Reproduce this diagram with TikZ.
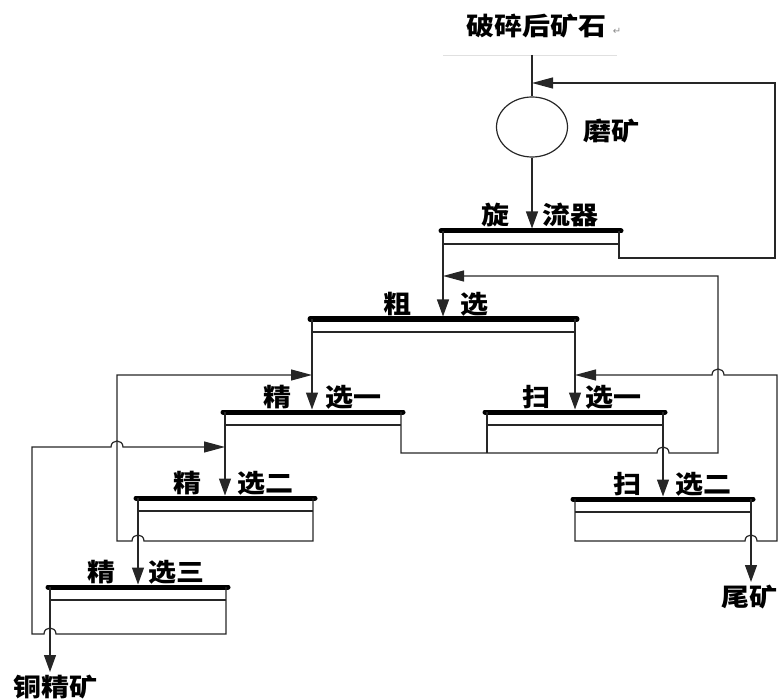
\documentclass[tikz,border=0pt]{standalone}
\usepackage{graphicx}
\usepackage{fontspec}
\usetikzlibrary{arrows.meta,shapes.geometric,calc}
\newfontfamily\cjk{Noto Sans CJK SC}
\newfontfamily\dejavu{DejaVu Sans}
\newcommand\zh[1]{\scalebox{1.12}[1]{\cjk\bfseries #1}}
\newcommand\flotcell[4]{%
  \coordinate (#1-L) at (#2,#4);
  \coordinate (#1-R) at (#3,#4);
  \draw[flow] (#2,#4+13) -- (#3,#4+13);
  \draw[bar] ($(#1-L)+(-2,0)$) -- ($(#1-R)+(2,0)$);
}
\begin{document}
\begin{tikzpicture}[x=1pt,y=-1pt,
  flow/.style={draw=black!85,line width=1.2pt},
  bar/.style={draw=black,line width=5pt,line cap=round},
  varrow/.style={-{Triangle[length=17pt,width=12pt]}},
  harrow/.style={-{Triangle[length=21pt,width=11pt]}},
  lbl/.style={inner sep=0pt,anchor=base west,font=\fontsize{25}{25}\selectfont},
  txt/.style={inner sep=0pt,font=\fontsize{25}{25}\selectfont}]
\useasboundingbox (0,0) rectangle (781,700);

% texts
\node[txt] (title) at (536,26) {\zh{破碎后矿石}};
\node[inner sep=0pt,text=black!45,font=\dejavu\fontsize{10}{10}\selectfont] (ret) at (617,31) {↵};
\draw[black!12,line width=0.8pt] (443,55) -- (617,55);
\node[txt] (millt) at (611,131) {\zh{磨矿}};
\node[txt] (conc) at (55,687) {\zh{铜精矿}};
\node[txt] (tail) at (749,597) {\zh{尾矿}};

\node[lbl] (cyc-a) at (481,225) {\zh{旋}};
\node[lbl] (cyc-b) at (542,225) {\zh{流器}};
\node[lbl] (ro-a) at (383,313) {\zh{粗}};
\node[lbl] (ro-b) at (460,313) {\zh{选}};
\node[lbl] (cl1-a) at (263,406) {\zh{精}};
\node[lbl] (cl1-b) at (325,406) {\zh{选一}};
\node[lbl] (sc1-a) at (522,406) {\zh{扫}};
\node[lbl] (sc1-b) at (585,406) {\zh{选一}};
\node[lbl] (cl2-a) at (173,492) {\zh{精}};
\node[lbl] (cl2-b) at (237,492) {\zh{选二}};
\node[lbl] (sc2-a) at (613,493) {\zh{扫}};
\node[lbl] (sc2-b) at (675,493) {\zh{选二}};
\node[lbl] (cl3-a) at (87,581) {\zh{精}};
\node[lbl] (cl3-b) at (148,581) {\zh{选三}};

% mill
\coordinate (feedtop) at (532,55);
\coordinate (millfeed) at (532,83);
\node[draw=black!85,line width=1.2pt,ellipse,minimum width=71pt,minimum height=60pt,inner sep=0pt] (mill) at (532,127) {};

% cells
\flotcell{cyc}{443}{619}{231}
\flotcell{ro}{312}{575}{319}
\flotcell{cl1}{225}{401}{412}
\flotcell{sc1}{487}{663}{412}
\flotcell{cl2}{138}{313}{498}
\flotcell{sc2}{575}{751}{499}
\flotcell{cl3}{50}{226}{587}

% inlet coordinates
\coordinate (cyc-in) at (532,228.5);
\coordinate (ro-in) at (443,316.5);
\coordinate (cl1-in) at (312,409.5);
\coordinate (sc1-in) at (575,409.5);
\coordinate (cl2-in) at (225,495.5);
\coordinate (sc2-in) at (663,496.5);
\coordinate (cl3-in) at (138,584.5);
\coordinate (tail-in) at (751,582);
\coordinate (conc-in) at (50,672);
\coordinate (ro-ret) at (443,276);
\coordinate (cl1-ret) at (312,375);
\coordinate (sc1-ret) at (575,375);
\coordinate (cl2-ret) at (225,447);

% connectors
\draw[flow] (feedtop) -- (mill.north);
\draw[flow,varrow] (mill.south) -- (cyc-in);
\draw[flow,harrow] (cyc-R) -- (619,258) -- (775,258) -- (775,83) -- (millfeed);
\draw[flow,varrow] (cyc-L) -- (ro-in);
\draw[flow,varrow] (ro-L) -- (cl1-in);
\draw[flow,varrow] (ro-R) -- (sc1-in);
\draw[flow,varrow] (cl1-L) -- (cl2-in);
\draw[flow,varrow] (sc1-R) -- (sc2-in);
\draw[flow,varrow] (cl2-L) -- (cl3-in);
\draw[flow,varrow] (sc2-R) -- (tail-in);
\draw[flow,varrow] (cl3-L) -- (conc-in);
\draw[flow] (sc1-L) -- (487,453);
\draw[flow,harrow] (cl1-R) -- (401,453) -- (657,453)
   .. controls (657,445) and (669,445) .. (669,453) -- (718,453) -- (718,276) -- (ro-ret);
\draw[flow,harrow] (cl2-R) -- (313,541) -- (144,541)
   .. controls (144,533) and (132,533) .. (132,541) -- (117,541) -- (117,375) -- (cl1-ret);
\draw[flow,harrow] (cl3-R) -- (226,634) -- (56,634)
   .. controls (56,626) and (44,626) .. (44,634) -- (32,634) -- (32,447) -- (111,447)
   .. controls (111,439) and (123,439) .. (123,447) -- (cl2-ret);
\draw[flow,harrow] (sc2-L) -- (575,541) -- (745,541)
   .. controls (745,533) and (757,533) .. (757,541) -- (777,541) -- (777,375) -- (724,375)
   .. controls (724,367) and (712,367) .. (712,375) -- (sc1-ret);
\end{tikzpicture}
\end{document}
